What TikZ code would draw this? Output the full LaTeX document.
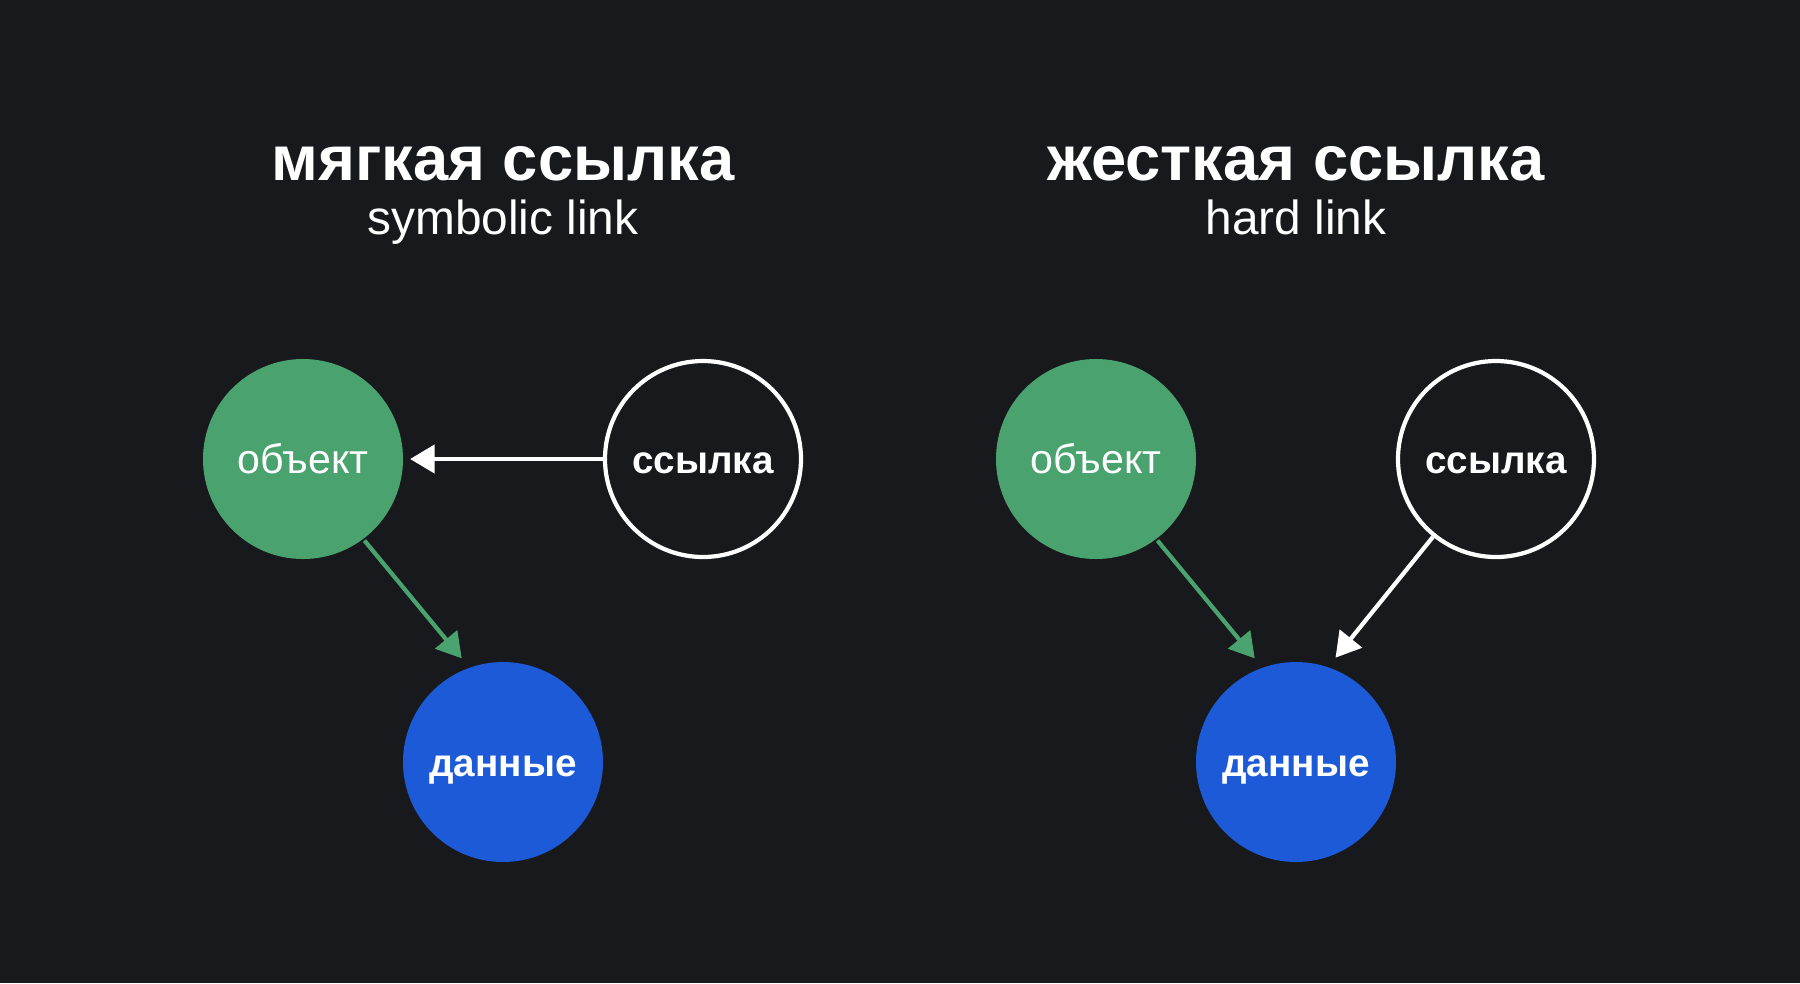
\documentclass[tikz,border=0pt]{standalone}
\usepackage{fontspec}
\setmainfont{Liberation Sans}
\usetikzlibrary{arrows.meta}
\usetikzlibrary{positioning}

\definecolor{bgdark}{HTML}{18191D}
\definecolor{objgreen}{HTML}{4AA36F}
\definecolor{datblue}{HTML}{1C5AD7}

\begin{document}
\begin{tikzpicture}[>={Triangle[length=7pt,width=8pt]},node distance=4cm,on grid,
			line width=1.2pt,
			obj node/.style={circle,fill=objgreen,minimum size=2cm,inner sep=0pt,
				text=white,text height=1.6ex,text depth=0pt,font=\fontsize{11.7}{14}\selectfont},
			ref node/.style={circle,draw=white,minimum size=1.96cm,inner sep=0pt,
				text=white,text height=1.6ex,text depth=0pt,font=\fontsize{11}{13}\selectfont\bfseries},
			dat node/.style={circle,fill=datblue,minimum size=2cm,inner sep=0pt,
				text=white,text height=1.6ex,text depth=0pt,font=\fontsize{11}{13}\selectfont\bfseries},
			title text/.style={anchor=base,text=white,font=\fontsize{18}{22}\selectfont\bfseries},
			sub text/.style={anchor=base,text=white,font=\fontsize{13.6}{16}\selectfont}]
			
			\fill[bgdark] (0,0) rectangle (18,-9.83);
			\useasboundingbox (0,0) rectangle (18,-9.83);
			
			% symbolic link
			\node[title text] (softru) at (5.03,-1.80) {мягкая ссылка};
			\node[sub text] (soften) at (5.03,-2.34) {symbolic link};
			\node[obj node] (obj1) at (3.03,-4.59) {объект};
			\node[ref node] (ref1) [right=of obj1] {ссылка};
			\node[dat node] (dat1) [below right=3.03cm and 2cm of obj1] {данные};
			\draw[->,white,shorten >=0.05cm] (ref1) -- (obj1);
			\draw[->,objgreen,shorten >=0.1cm] (obj1.-53) -- (dat1.110);
			
			% hard link
			\node[title text] (hardru) at (12.96,-1.80) {жесткая ссылка};
			\node[sub text] (harden) at (12.96,-2.34) {hard link};
			\node[obj node] (obj2) at (10.96,-4.59) {объект};
			\node[ref node] (ref2) [right=of obj2] {ссылка};
			\node[dat node] (dat2) [below right=3.03cm and 2cm of obj2] {данные};
			\draw[->,objgreen,shorten >=0.1cm] (obj2.-53) -- (dat2.110);
			\draw[->,white,shorten >=0.1cm] (ref2.-129) -- (dat2.71);
			
		\end{tikzpicture}
\end{document}
